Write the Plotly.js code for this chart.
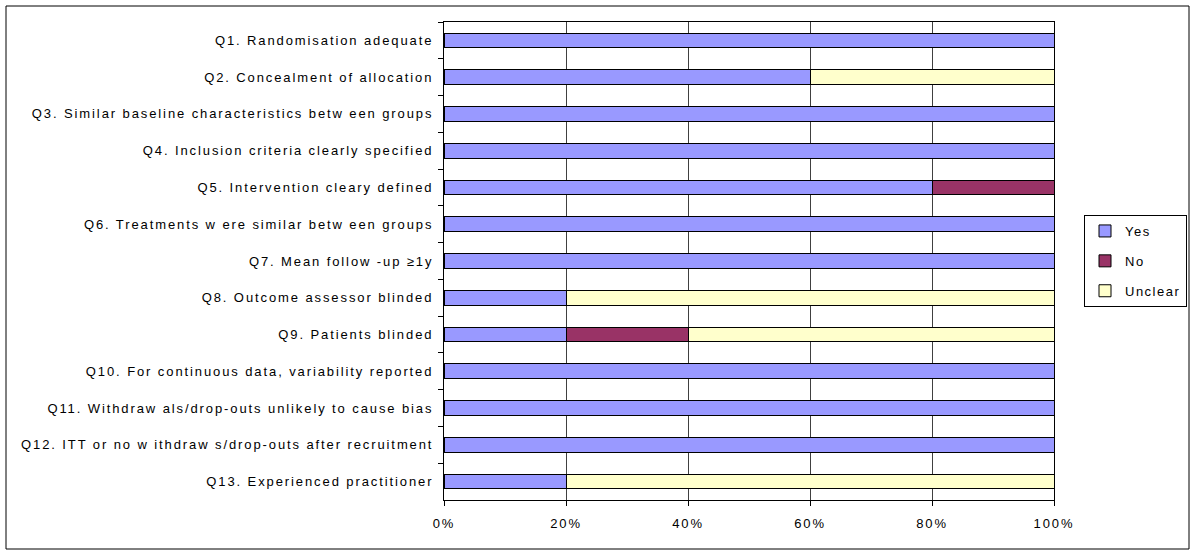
<!DOCTYPE html>
<html>
<head>
<meta charset="utf-8">
<script src="https://cdn.plot.ly/plotly-3.0.1.min.js"></script>
<style>
html, body { margin: 0; padding: 0; background: #fff; }
#chart { width: 1192px; height: 554px; }
#chart .ytick text, #chart .xtick text { letter-spacing: 1.9px; }
.legendtext { letter-spacing: 1.5px; }
</style>
</head>
<body>
<div id="chart"></div>
<script>
const categories = [
  "Q1. Randomisation adequate",
  "Q2. Concealment of allocation",
  "Q3. Similar baseline characteristics betw een groups",
  "Q4. Inclusion criteria clearly specified",
  "Q5. Intervention cleary defined",
  "Q6. Treatments w ere similar betw een groups",
  "Q7. Mean follow -up ≥1y",
  "Q8. Outcome assessor blinded",
  "Q9. Patients blinded",
  "Q10. For continuous data, variability reported",
  "Q11. Withdraw als/drop-outs unlikely to cause bias",
  "Q12. ITT or no w ithdraw s/drop-outs after recruitment",
  "Q13. Experienced practitioner"
];
const yesValues     = [100, 60, 100, 100, 80, 100, 100, 20, 20, 100, 100, 100, 20];
const noValues      = [0, 0, 0, 0, 20, 0, 0, 0, 20, 0, 0, 0, 0];
const unclearValues = [0, 40, 0, 0, 0, 0, 0, 80, 60, 0, 0, 0, 80];
const xTickValues = [0, 20, 40, 60, 80, 100];
const xTickLabels = ["0%", "20%", "40%", "60%", "80%", "100%"];

const FONT = "Liberation Sans, Arial, sans-serif";
const FS = 13;
const line = {color: "#000000", width: 1};

const traces = [
  {name: "Yes", values: yesValues, color: "#9999FF"},
  {name: "No", values: noValues, color: "#993366"},
  {name: "Unclear", values: unclearValues, color: "#FFFFCC"}
].map(s => ({
  type: "bar",
  orientation: "h",
  name: s.name,
  legendgroup: s.name,
  y: categories,
  x: s.values,
  marker: {color: s.color, line: line},
  hoverinfo: "x+name"
}));

const L = 444, R = 1054, T = 22, B = 500;
const W = 1192, H = 554;
const pw = R - L, ph = B - T;
function px(x) { return (x - L) / pw; }
function py(y) { return (B - y) / ph; }

const layout = {
  width: W, height: H,
  margin: {l: L, r: W - R, t: T, b: H - B, pad: 0, autoexpand: false},
  paper_bgcolor: "#ffffff",
  plot_bgcolor: "#ffffff",
  barmode: "stack",
  bargap: 0.6,
  font: {family: FONT, size: FS, color: "#000000"},
  showlegend: true,
  legend: {
    x: px(1084), y: py(215), xanchor: "left", yanchor: "top",
    bordercolor: "#000000", borderwidth: 1, bgcolor: "#ffffff",
    font: {family: FONT, size: FS, color: "#000000"},
    traceorder: "grouped", itemwidth: 30, tracegroupgap: 10
  },
  xaxis: {
    range: [0, 100],
    tickvals: xTickValues,
    ticktext: xTickLabels,
    showgrid: true, gridcolor: "#404040", gridwidth: 1,
    showline: true, linecolor: "#000000", linewidth: 1, mirror: true,
    ticks: "outside", ticklen: 5, tickcolor: "#000000",
    ticklabelstandoff: 6,
    zeroline: false,
    tickfont: {family: FONT, size: FS, color: "#000000"},
    fixedrange: true
  },
  yaxis: {
    type: "category",
    autorange: "reversed",
    showgrid: false,
    showline: true, linecolor: "#000000", linewidth: 1, mirror: true,
    ticks: "outside", ticklen: 5, tickcolor: "#000000",
    tickson: "boundaries",
    ticklabelstandoff: 7,
    tickfont: {family: FONT, size: FS, color: "#000000"},
    fixedrange: true
  },
  shapes: [{
    type: "rect", xref: "paper", yref: "paper",
    x0: px(6), x1: px(1189), y0: py(549), y1: py(6),
    line: {color: "#000000", width: 1}, fillcolor: "rgba(0,0,0,0)", layer: "below"
  }]
};

Plotly.newPlot("chart", traces, layout, {displayModeBar: false, staticPlot: true});
</script>
</body>
</html>
